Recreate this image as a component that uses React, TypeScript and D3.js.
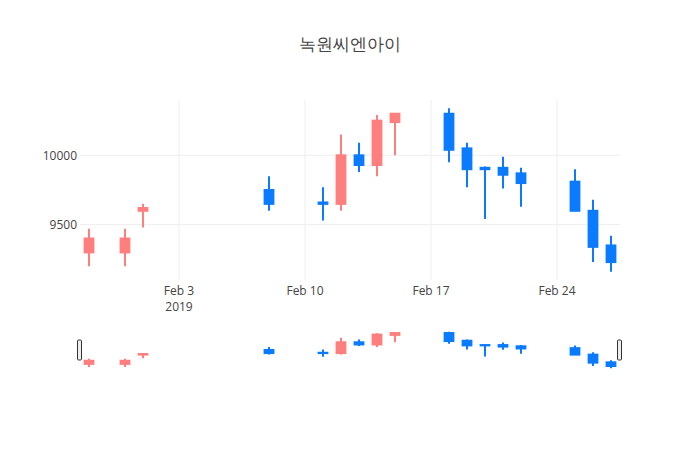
import React, { useRef, useEffect } from 'react';
import * as d3 from 'd3';

const title = '녹원씨엔아이';

const dates = [
  '2019-01-29', '2019-01-31', '2019-02-01', '2019-02-08', '2019-02-11', '2019-02-12',
  '2019-02-13', '2019-02-14', '2019-02-15', '2019-02-18', '2019-02-19', '2019-02-20',
  '2019-02-21', '2019-02-22', '2019-02-25', '2019-02-26', '2019-02-27',
];
const open = [9300, 9300, 9600, 9750, 9660, 9650, 10000, 9930, 10240, 10300, 10050, 9910, 9910, 9870, 9810, 9600, 9350];
const high = [9470, 9470, 9650, 9850, 9770, 10150, 10090, 10290, 10300, 10340, 10090, 9920, 9990, 9910, 9900, 9680, 9420];
const low = [9200, 9200, 9480, 9600, 9530, 9600, 9880, 9850, 10000, 9950, 9770, 9540, 9760, 9630, 9600, 9230, 9160];
const close = [9400, 9400, 9620, 9650, 9650, 10000, 9930, 10250, 10300, 10040, 9900, 9900, 9860, 9800, 9600, 9340, 9230];

const yTicks = [9500, 10000];

const UP = '#ff7f7f';
const DOWN = '#0a7bff';
const DAY = 24 * 3600 * 1000;

const App: React.FC = () => {
  const svgRef = useRef<SVGSVGElement>(null);

  useEffect(() => {
    if (!svgRef.current) return;
    const svg = d3.select(svgRef.current);
    svg.selectAll('*').remove();

    const width = 700;
    const height = 450;
    const margin = { left: 80, right: 80, top: 100 };
    const plotBottom = 280;
    const slider = { top: 330, bottom: 370 };
    const font = '"Open Sans", Verdana, Arial, sans-serif';

    const parse = d3.utcParse('%Y-%m-%d');
    const rows = dates.map((d, i) => ({
      date: parse(d)!, o: open[i], h: high[i], l: low[i], c: close[i],
    }));

    const first = rows[0].date.getTime();
    const last = rows[rows.length - 1].date.getTime();
    const x = d3.scaleUtc()
      .domain([new Date(first - DAY / 2), new Date(last + DAY / 2)])
      .range([margin.left, width - margin.right]);

    const lo = d3.min(low)!;
    const hi = d3.max(high)!;
    const pad = (hi - lo) * 0.05;
    const y = d3.scaleLinear().domain([lo - pad, hi + pad]).range([plotBottom, margin.top]);
    const ys = d3.scaleLinear().domain([lo - pad, hi + pad]).range([slider.bottom, slider.top]);

    // title
    svg.append('text')
      .attr('x', width / 2).attr('y', 50)
      .attr('text-anchor', 'middle')
      .attr('font-family', font).attr('font-size', 17)
      .attr('fill', '#444').text(title);

    // grid
    const xTicks = [parse('2019-02-03')!, parse('2019-02-10')!, parse('2019-02-17')!, parse('2019-02-24')!];
    svg.append('g').selectAll('line').data(yTicks).enter().append('line')
      .attr('x1', margin.left).attr('x2', width - margin.right)
      .attr('y1', (d) => y(d)).attr('y2', (d) => y(d))
      .attr('stroke', '#eee').attr('stroke-width', 1);
    svg.append('g').selectAll('line').data(xTicks).enter().append('line')
      .attr('x1', (d) => x(d)).attr('x2', (d) => x(d))
      .attr('y1', margin.top).attr('y2', plotBottom)
      .attr('stroke', '#eee').attr('stroke-width', 1);

    // y tick labels
    svg.append('g').selectAll('text').data(yTicks).enter().append('text')
      .attr('x', margin.left - 3).attr('y', (d) => y(d))
      .attr('dy', '0.35em').attr('text-anchor', 'end')
      .attr('font-family', font).attr('font-size', 12).attr('fill', '#444')
      .text((d) => String(d));

    // x tick labels
    const xl = svg.append('g').selectAll('text').data(xTicks).enter().append('text')
      .attr('x', (d) => x(d)).attr('y', plotBottom + 15)
      .attr('text-anchor', 'middle')
      .attr('font-family', font).attr('font-size', 12).attr('fill', '#444');
    xl.append('tspan').attr('x', (d) => x(d)).text((d) => d3.utcFormat('%b %-d')(d));
    xl.filter((_, i) => i === 0).append('tspan')
      .attr('x', (d) => x(d)).attr('dy', 16).text((d) => d3.utcFormat('%Y')(d));

    const drawCandles = (g: d3.Selection<SVGGElement, unknown, null, undefined>, ys2: d3.ScaleLinear<number, number>) => {
      const c = g.selectAll('g').data(rows).enter().append('g');
      const col = (d: typeof rows[0]) => (d.c >= d.o ? UP : DOWN);
      c.append('line')
        .attr('x1', (d) => x(d.date)).attr('x2', (d) => x(d.date))
        .attr('y1', (d) => ys2(d.h)).attr('y2', (d) => ys2(d.l))
        .attr('stroke', col).attr('stroke-width', 2);
      c.append('rect')
        .attr('x', (d) => x(new Date(d.date.getTime() - 0.3 * DAY)) + 1)
        .attr('width', (d) => x(new Date(d.date.getTime() + 0.3 * DAY)) - x(new Date(d.date.getTime() - 0.3 * DAY)) - 2)
        .attr('y', (d) => ys2(Math.max(d.o, d.c)))
        .attr('height', (d) => Math.max(0, ys2(Math.min(d.o, d.c)) - ys2(Math.max(d.o, d.c))))
        .attr('fill', col).attr('stroke', col).attr('stroke-width', 2);
    };

    drawCandles(svg.append('g'), y);

    // range slider
    const sg = svg.append('g');
    sg.append('rect')
      .attr('x', margin.left).attr('y', slider.top)
      .attr('width', width - margin.left - margin.right).attr('height', slider.bottom - slider.top)
      .attr('fill', '#fff');
    drawCandles(sg.append('g'), ys);
    const mid = (slider.top + slider.bottom) / 2;
    [margin.left, width - margin.right].forEach((hx) => {
      sg.append('rect')
        .attr('x', hx - 2.5).attr('y', mid - 10)
        .attr('width', 4).attr('height', 20)
        .attr('rx', 1).attr('ry', 1)
        .attr('fill', '#eee').attr('stroke', '#333').attr('stroke-width', 1);
    });
  }, []);

  return (
    <div style={{ position: 'absolute', left: 0, top: 0, width: 700, height: 450, background: '#fff' }}>
      <svg ref={svgRef} width={700} height={450} style={{ display: 'block' }} />
    </div>
  );
};

export default App;
